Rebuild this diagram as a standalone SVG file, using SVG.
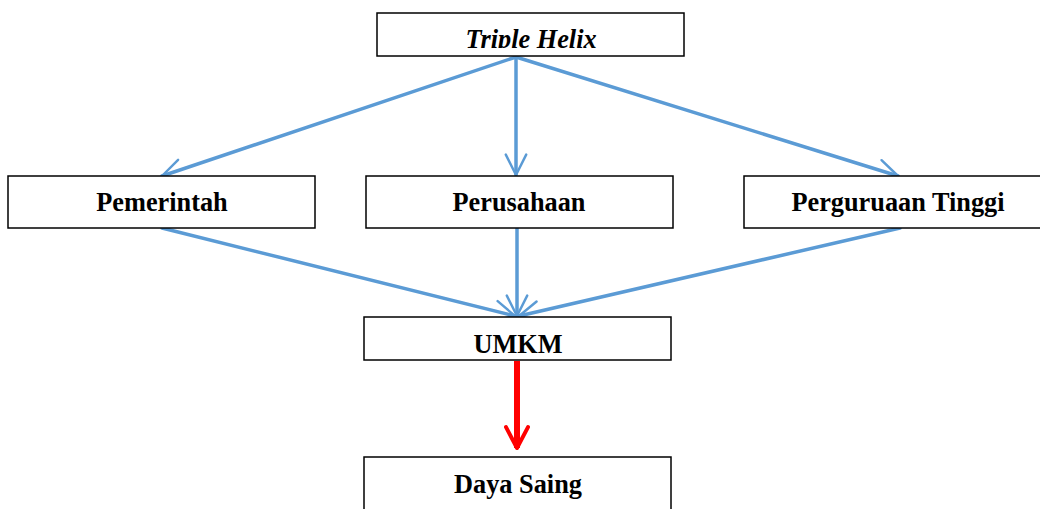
<svg xmlns="http://www.w3.org/2000/svg" width="1040" height="509" viewBox="0 0 1040 509">
<style>
.box{fill:#fff;stroke:#000;stroke-width:1.5}
.t{font-family:"Liberation Serif","Times New Roman",serif;font-weight:bold;font-size:26.3px;text-anchor:middle;fill:#000}
.blue{stroke:#5B9BD5;stroke-width:3.5;fill:none;stroke-linecap:round}
.red{stroke:#FF0000;stroke-width:6;fill:none}
</style>
<defs>
<marker id="ab" viewBox="0 0 12 12" refX="11" refY="6" markerWidth="7" markerHeight="7" markerUnits="strokeWidth" orient="auto">
<path d="M1,1 L11,6 L1,11" fill="none" stroke="#5B9BD5" stroke-width="1.2" stroke-linecap="round" stroke-linejoin="round"/>
</marker>
<marker id="ar" viewBox="0 0 12 12" refX="11" refY="6" markerWidth="4.4" markerHeight="4.4" markerUnits="strokeWidth" orient="auto">
<path d="M1.5,1 L11,6 L1.5,11" fill="none" stroke="#FF0000" stroke-width="1.8" stroke-linecap="round" stroke-linejoin="round"/>
</marker>
<clipPath id="c1"><rect x="377" y="13" width="307" height="35"/></clipPath>
</defs>
<g id="connectors">
<line class="blue" x1="516" y1="57" x2="162" y2="176" marker-end="url(#ab)"/>
<line class="blue" x1="516" y1="57" x2="516" y2="175" marker-end="url(#ab)"/>
<line class="blue" x1="516" y1="57" x2="898" y2="176" marker-end="url(#ab)"/>
<line class="blue" x1="162" y1="228" x2="515" y2="316" marker-end="url(#ab)"/>
<line class="blue" x1="517" y1="228" x2="517" y2="316" marker-end="url(#ab)"/>
<line class="blue" x1="900" y1="228" x2="519" y2="316" marker-end="url(#ab)"/>
<line class="red" x1="517" y1="361" x2="517" y2="448" marker-end="url(#ar)"/>
</g>
<g id="triple-helix">
<rect class="box" x="377" y="13" width="307" height="43"/>
<text class="t" x="531" y="48" font-style="italic" clip-path="url(#c1)">Triple Helix</text>
</g>
<g id="pemerintah">
<rect class="box" x="8" y="176" width="307" height="52"/>
<text class="t" x="162" y="211">Pemerintah</text>
</g>
<g id="perusahaan">
<rect class="box" x="366" y="176" width="307" height="52"/>
<text class="t" x="519" y="211">Perusahaan</text>
</g>
<g id="perguruan-tinggi">
<rect class="box" x="744" y="176" width="307" height="52"/>
<text class="t" x="898" y="211">Perguruaan Tinggi</text>
</g>
<g id="umkm">
<rect class="box" x="364" y="317" width="307" height="43"/>
<text class="t" x="518" y="353">UMKM</text>
</g>
<g id="daya-saing">
<rect class="box" x="364" y="457" width="307" height="60"/>
<text class="t" x="518" y="493">Daya Saing</text>
</g>
</svg>
